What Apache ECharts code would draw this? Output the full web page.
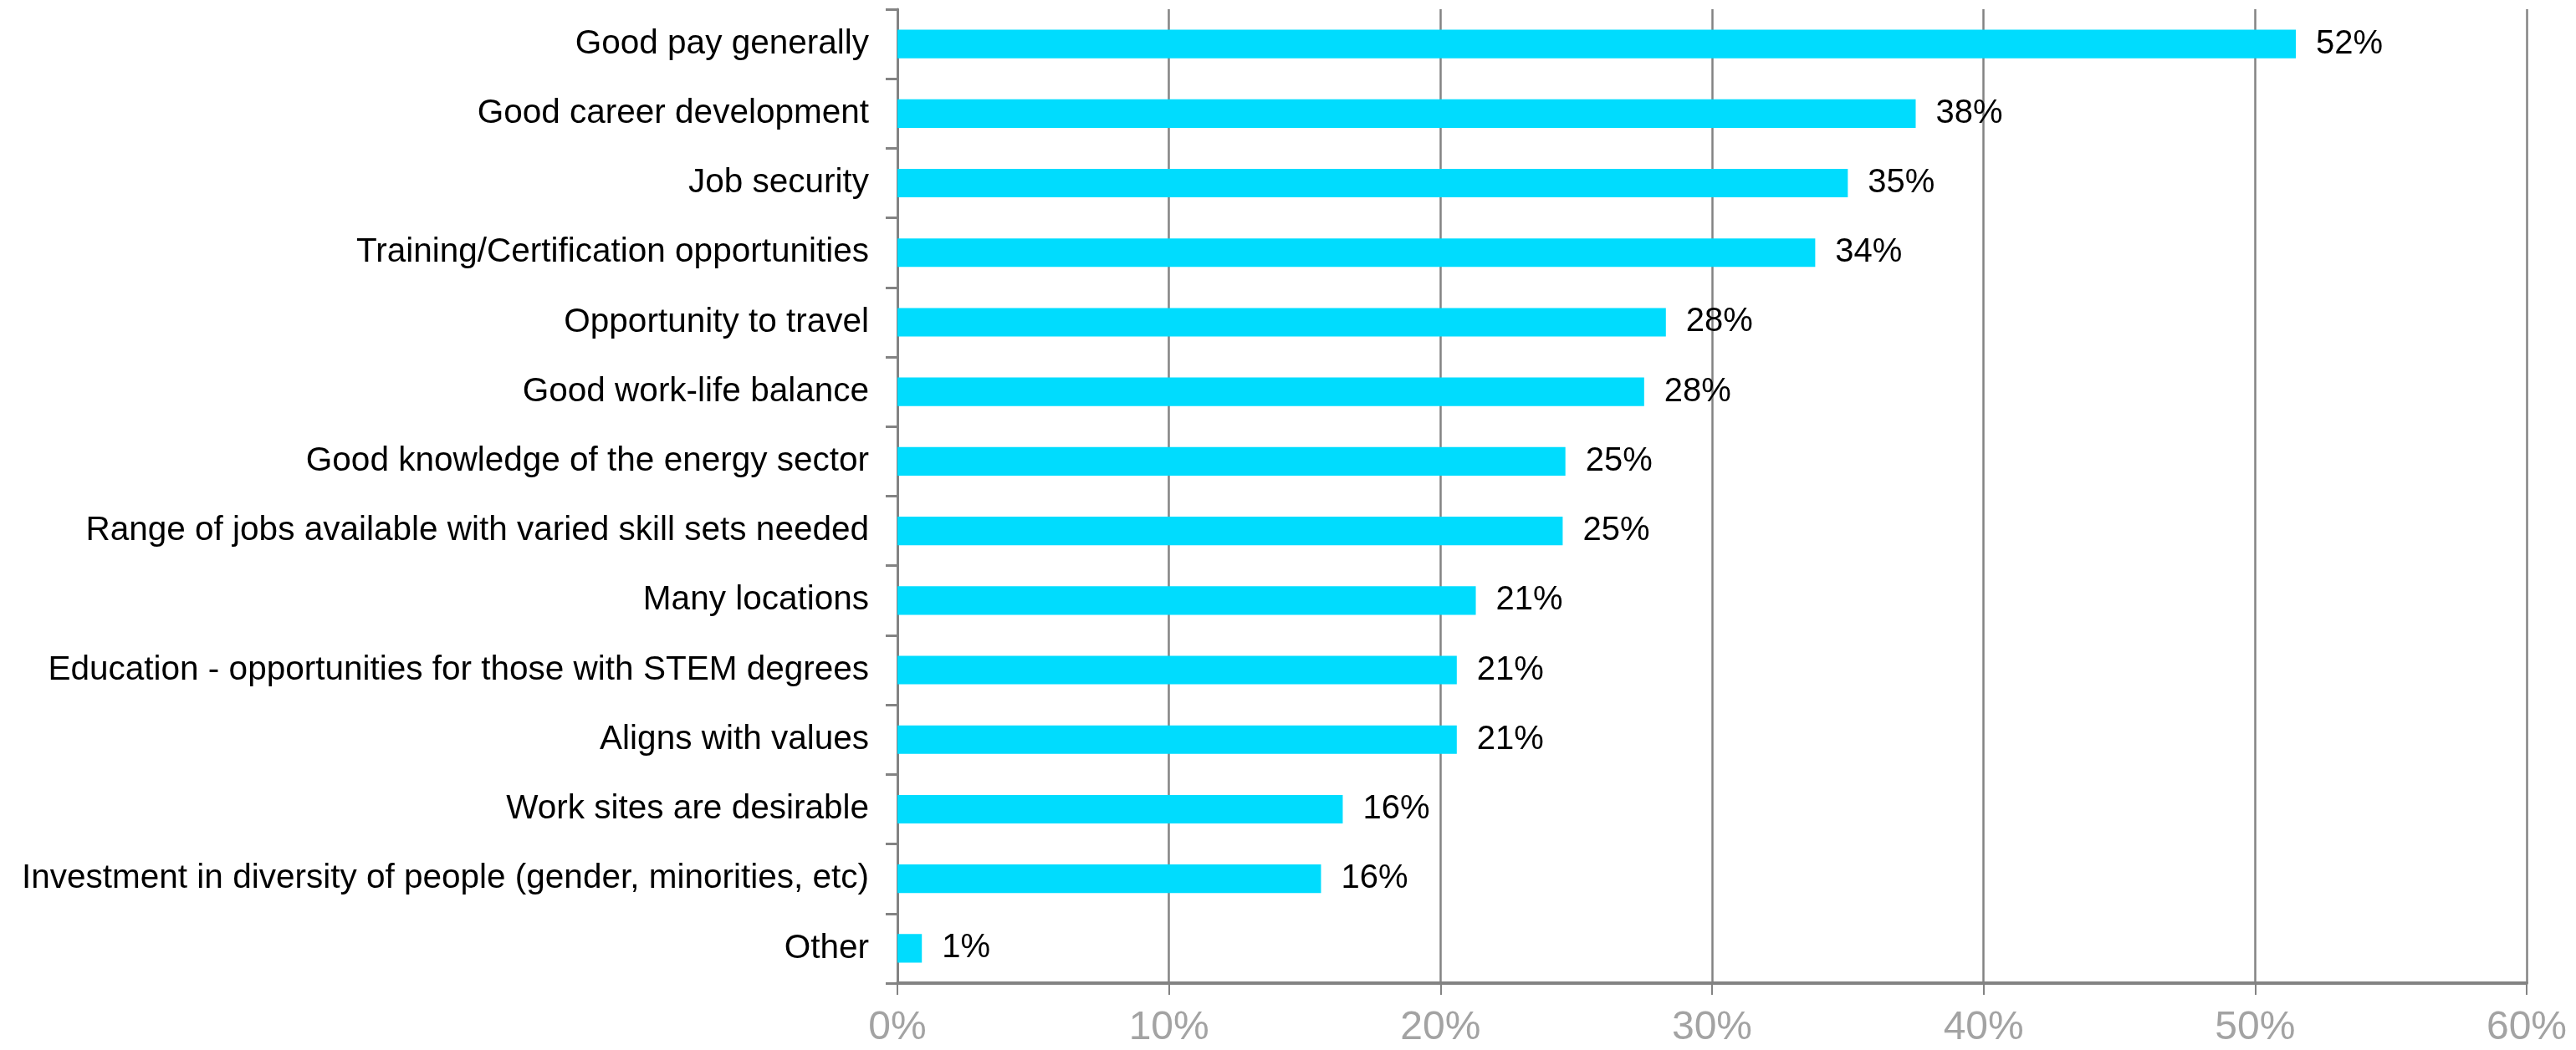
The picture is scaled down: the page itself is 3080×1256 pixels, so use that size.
<!DOCTYPE html>
<html>
<head>
<meta charset="utf-8">
<title>Attractive aspects of working in the energy sector</title>
<script src="https://cdn.jsdelivr.net/npm/echarts@6/dist/echarts.min.js"></script>
<style>
  html, body { margin: 0; padding: 0; background: #ffffff; }
  #chart { width: 3080px; height: 1256px; }
</style>
</head>
<body>
<div id="chart"></div>
<script>
// Survey answers, top to bottom
const categories = [
  'Good pay generally',
  'Good career development',
  'Job security',
  'Training/Certification opportunities',
  'Opportunity to travel',
  'Good work-life balance',
  'Good knowledge of the energy sector',
  'Range of jobs available with varied skill sets needed',
  'Many locations',
  'Education - opportunities for those with STEM degrees',
  'Aligns with values',
  'Work sites are desirable',
  'Investment in diversity of people (gender, minorities, etc)',
  'Other'
];

// Share of respondents, in percent
const shares = [51.5, 37.5, 35.0, 33.8, 28.3, 27.5, 24.6, 24.5, 21.3, 20.6, 20.6, 16.4, 15.6, 0.9];

// Value axis range and step, in percent
const axisMin = 0;
const axisMax = 60;
const axisStep = 10;

const FONT = '"Liberation Sans", Arial, Helvetica, sans-serif';
const GRID_GREY = '#838383';

const chart = echarts.init(document.getElementById('chart'), null, { renderer: 'canvas' });

chart.setOption({
  backgroundColor: '#ffffff',
  animation: false,
  textStyle: { fontFamily: FONT },
  grid: { left: 1073, right: 59, top: 11, bottom: 80, containLabel: false },
  xAxis: {
    type: 'value',
    min: axisMin,
    max: axisMax,
    interval: axisStep,
    axisLine: { show: true, lineStyle: { color: GRID_GREY, width: 4 } },
    axisTick: { show: true, length: 14, lineStyle: { color: GRID_GREY, width: 2 } },
    splitLine: { show: true, lineStyle: { color: GRID_GREY, width: 2.5 } },
    axisLabel: {
      formatter: '{value}%',
      color: '#a3a3a3',
      fontSize: 48,
      fontFamily: FONT,
      margin: 30
    }
  },
  yAxis: {
    type: 'category',
    data: categories,
    inverse: true,
    axisLine: { show: true, lineStyle: { color: GRID_GREY, width: 3 } },
    axisTick: { show: true, length: 14, interval: 0, lineStyle: { color: GRID_GREY, width: 3 } },
    splitLine: { show: false },
    axisLabel: {
      color: '#000000',
      fontSize: 40.5,
      fontFamily: FONT,
      margin: 34,
      interval: 0
    }
  },
  series: [{
    type: 'bar',
    data: shares,
    barWidth: '41%',
    itemStyle: { color: '#00dcfe' },
    label: {
      show: true,
      position: 'right',
      distance: 24,
      color: '#000000',
      fontSize: 40,
      fontFamily: FONT,
      formatter: p => Math.round(p.value) + '%'
    }
  }]
});
</script>
</body>
</html>
